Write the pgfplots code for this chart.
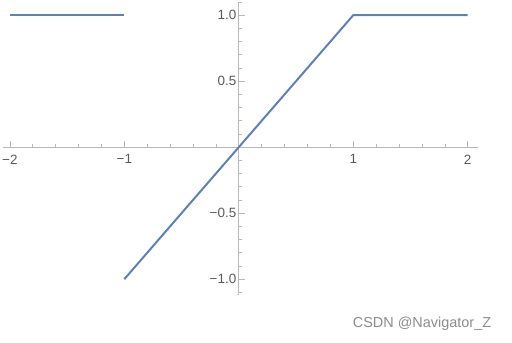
\documentclass[border=0pt]{standalone}
\usepackage{pgfplots}
\pgfplotsset{compat=1.18}
\usepackage{fontspec}
\setmainfont{Liberation Sans}
\definecolor{mline}{RGB}{94,129,181}
\definecolor{axgray}{RGB}{185,185,185}
\definecolor{lblgray}{RGB}{90,90,90}
\definecolor{wmgray}{RGB}{140,140,140}
\begin{document}
\begin{tikzpicture}[x=1bp,y=1bp]
\begin{axis}[
  scale only axis,
  width=475bp, height=293bp,
  at={(3bp,48bp)}, anchor=south west,
  xmin=-2.06, xmax=2.09, ymin=-1.12, ymax=1.1,
  axis lines=middle,
  axis line style={axgray, line width=0.6bp, -},
  clip=false,
  xtick={-2,-1,1,2},
  xticklabels={−2,−1,1,2},
  ytick={-1,-0.5,0.5,1},
  yticklabels={−1.0,−0.5,0.5,1.0},
  minor xtick={-1.8,-1.6,-1.4,-1.2,-0.8,-0.6,-0.4,-0.2,0.2,0.4,0.6,0.8,1.2,1.4,1.6,1.8},
  minor ytick={-1.1,-0.9,-0.8,-0.7,-0.6,-0.4,-0.3,-0.2,-0.1,0.1,0.2,0.3,0.4,0.6,0.7,0.8,0.9,1.1},
  tick align=inside,
  major tick length=6bp,
  minor tick length=3.5bp,
  tick style={axgray, line width=0.6bp},
  ticklabel style={font=\fontsize{13.5}{15}\selectfont, text=lblgray},
  xticklabel style={yshift=-4bp},
  yticklabel style={xshift=1bp},
]
\addplot[mline, line width=2bp] coordinates {(-2,1) (-1,1)};
\addplot[mline, line width=2bp] coordinates {(-1,-1) (1,1) (2,1)};
\end{axis}
\node[anchor=center, text=wmgray, font=\fontsize{14.5}{16}\selectfont] at (422bp,19bp) {CSDN @Navigator\_Z};
\pgfresetboundingbox
\useasboundingbox (0,0) rectangle (512bp,343bp);
\end{tikzpicture}
\end{document}
